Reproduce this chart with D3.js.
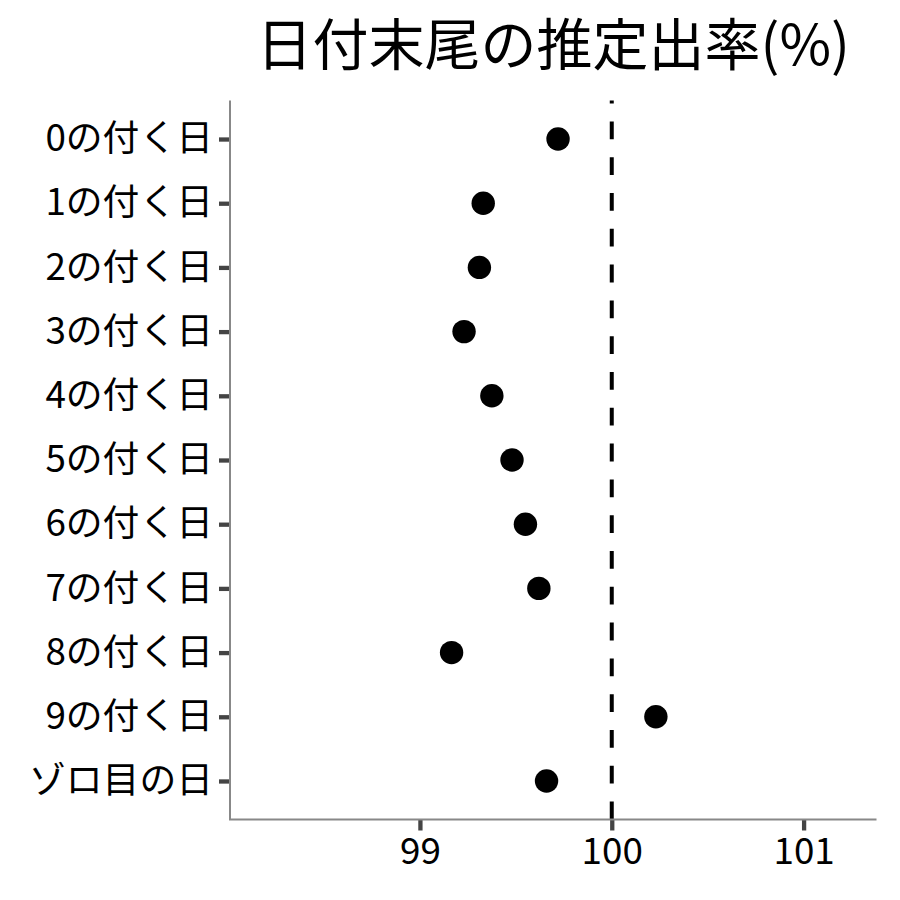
<!DOCTYPE html>
<html>
<head>
<meta charset="utf-8">
<script src="https://cdn.jsdelivr.net/npm/d3@7"></script>
<style>
  html, body { margin: 0; padding: 0; background: #fff; }
  svg { display: block; font-family: "Noto Sans CJK JP", "Noto Sans CJK SC", sans-serif; }
</style>
</head>
<body>
<svg id="chart" width="900" height="900"></svg>
<script>
const title = "日付末尾の推定出率(%)";
const categories = ["0の付く日","1の付く日","2の付く日","3の付く日","4の付く日","5の付く日","6の付く日","7の付く日","8の付く日","9の付く日","ゾロ目の日"];
const values = [99.72, 99.33, 99.31, 99.23, 99.375, 99.48, 99.55, 99.62, 99.165, 100.23, 99.66];
const xTicks = [99, 100, 101];
const refValue = 100;

const svg = d3.select("#chart");
const panel = { left: 230, right: 876.5, top: 100.5, bottom: 819.5 };

const x = d3.scaleLinear().domain([98.01, 101.38]).range([panel.left, panel.right]);
const y = d3.scalePoint().domain(categories).range([panel.top, panel.bottom]).padding(0.6);

// title
svg.append("text")
  .attr("x", (panel.left + panel.right) / 2)
  .attr("y", 65)
  .attr("text-anchor", "middle")
  .attr("font-size", 56)
  .attr("fill", "#000")
  .text(title);

// reference dashed line
svg.append("line")
  .attr("x1", x(refValue)).attr("x2", x(refValue))
  .attr("y1", panel.top).attr("y2", panel.bottom)
  .attr("stroke", "#000")
  .attr("stroke-width", 4)
  .attr("stroke-dasharray", "17.8 18")
  .attr("stroke-dashoffset", 14.9);

// points
svg.append("g").selectAll("circle")
  .data(categories.map((c, i) => ({ c, v: values[i] })))
  .join("circle")
  .attr("cx", d => x(d.v))
  .attr("cy", d => y(d.c))
  .attr("r", 11.7)
  .attr("fill", "#000");

// axes
const xAxis = d3.axisBottom(x).tickValues(xTicks).tickSize(11).tickPadding(9).tickFormat(d3.format("d"));
const yAxis = d3.axisLeft(y).tickSize(11).tickPadding(6);

const gx = svg.append("g").attr("transform", `translate(0,${panel.bottom})`).call(xAxis);
const gy = svg.append("g").attr("transform", `translate(${panel.left},0)`).call(yAxis);

[gx, gy].forEach(g => {
  g.select(".domain").remove();
  g.selectAll(".tick line").attr("stroke", "#444").attr("stroke-width", 4.3);
  g.selectAll(".tick text").attr("fill", "#000").attr("font-size", 36.8)
    .attr("font-family", "'Noto Sans CJK JP', sans-serif");
});
gx.selectAll(".tick text").attr("dy", "0.66em");

// axis lines (L shape)
svg.append("path")
  .attr("d", `M${panel.left},${panel.top}V${panel.bottom}H${panel.right}`)
  .attr("fill", "none")
  .attr("stroke", "#888")
  .attr("stroke-width", 2);
</script>
</body>
</html>
